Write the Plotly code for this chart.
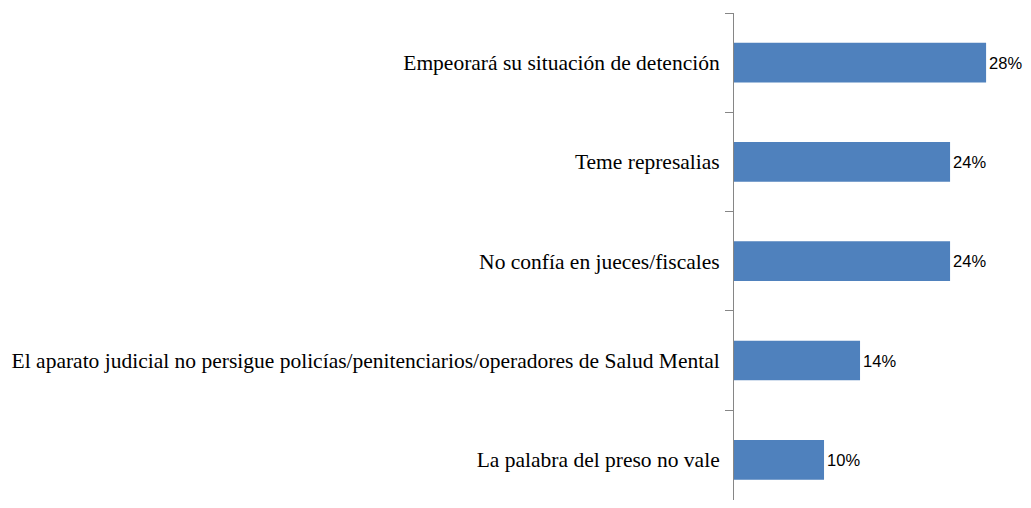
import plotly.graph_objects as go

categorias = [
    "Empeorará su situación de detención",
    "Teme represalias",
    "No confía en jueces/fiscales",
    "El aparato judicial no persigue policías/penitenciarios/operadores de Salud Mental",
    "La palabra del preso no vale",
]
porcentajes = [28, 24, 24, 14, 10]
etiquetas = ["28%", "24%", "24%", "14%", "10%"]

fig = go.Figure()
fig.add_trace(go.Bar(
    y=categorias,
    x=porcentajes,
    orientation="h",
    marker=dict(color="#4F81BD", line=dict(width=0)),
    text=etiquetas,
    textposition="outside",
    textfont=dict(family="Liberation Sans Narrow, Arial Narrow, Liberation Sans, sans-serif",
                  size=16.5, color="#000000"),
    cliponaxis=False,
    width=0.4,
))

# the page body adds 8px around the figure, so size it to fit the window
fig.update_layout(
    width=1015,
    height=492,
    margin=dict(l=726, r=0, t=5, b=0),
    plot_bgcolor="white",
    paper_bgcolor="white",
    showlegend=False,
    xaxis=dict(
        range=[0, 32.1],
        visible=False,
        showgrid=False,
        zeroline=False,
    ),
    yaxis=dict(
        # last category boundary falls just below the visible area, as in the original
        range=[4.405, -0.5],
        showline=True,
        linecolor="#868686",
        linewidth=1,
        ticks="outside",
        ticklen=8,
        tickcolor="#868686",
        tickson="boundaries",
        ticklabelstandoff=9,
        showgrid=False,
        tickfont=dict(family="Liberation Serif, Times New Roman, serif", size=21.5, color="#000000"),
    ),
)

fig.write_html("out.html")
